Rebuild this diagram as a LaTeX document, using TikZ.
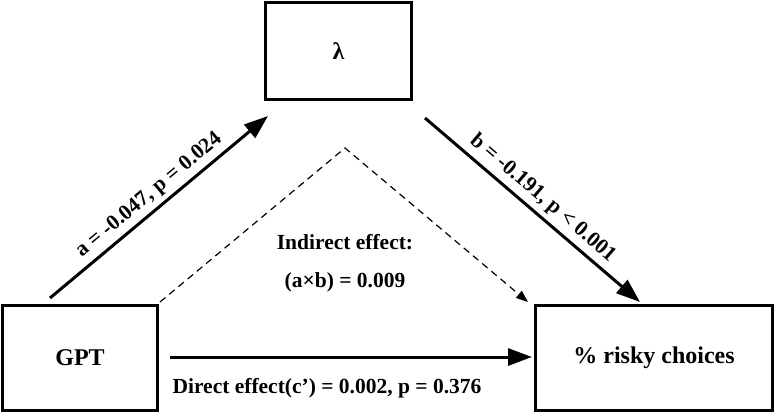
\documentclass[tikz,border=0pt]{standalone}
\usepackage{fontspec}
\setmainfont{Liberation Serif}
\usetikzlibrary{arrows.meta}
\begin{document}
\begin{tikzpicture}[x=1pt,y=-1pt,
 box/.style={draw,line width=3pt,inner sep=0pt,font=\fontsize{24}{28}\selectfont\bfseries},
 lab/.style={font=\fontsize{21.5}{26}\selectfont\bfseries},
 arr/.style={line width=3pt,-{Triangle[length=24pt,width=17pt]}},
 darr/.style={line width=1.2pt,dash pattern=on 7pt off 5pt,-{Triangle[length=12pt,width=9pt]}}]
\useasboundingbox (0,0) rectangle (776,413);
\node[box,minimum width=146pt,minimum height=97pt] (l) at (338.5,51) {λ};
\node[box,minimum width=155pt,minimum height=105pt] (g) at (80,358) {GPT};
\node[box,minimum width=237pt,minimum height=105pt] (r) at (654,358) {\% risky choices};
\coordinate (a1) at (50,298); \coordinate (a2) at (268,116);
\coordinate (b1) at (425,118); \coordinate (b2) at (640,302);
\draw[arr] (a1) -- node[lab,sloped,above=1pt] {a = -0.047, p = 0.024} (a2);
\draw[arr] (b1) -- node[lab,sloped,above=1pt] {b = -0.191, p < 0.001} (b2);
\coordinate (d1) at (160,302); \coordinate (d2) at (345,148); \coordinate (d3) at (528,302);
\draw[darr] (d1) -- (d2) -- (d3);
\coordinate (c1) at (170,357); \coordinate (c2) at (532,357);
\draw[arr] (c1) -- (c2);
\node[lab] (ie) at (345,242) {Indirect effect:};
\node[lab] (ab) at (345,282) {(a×b) = 0.009};
\node[lab] (de) at (327,388) {Direct effect(c’) = 0.002, p = 0.376};
\end{tikzpicture}
\end{document}
